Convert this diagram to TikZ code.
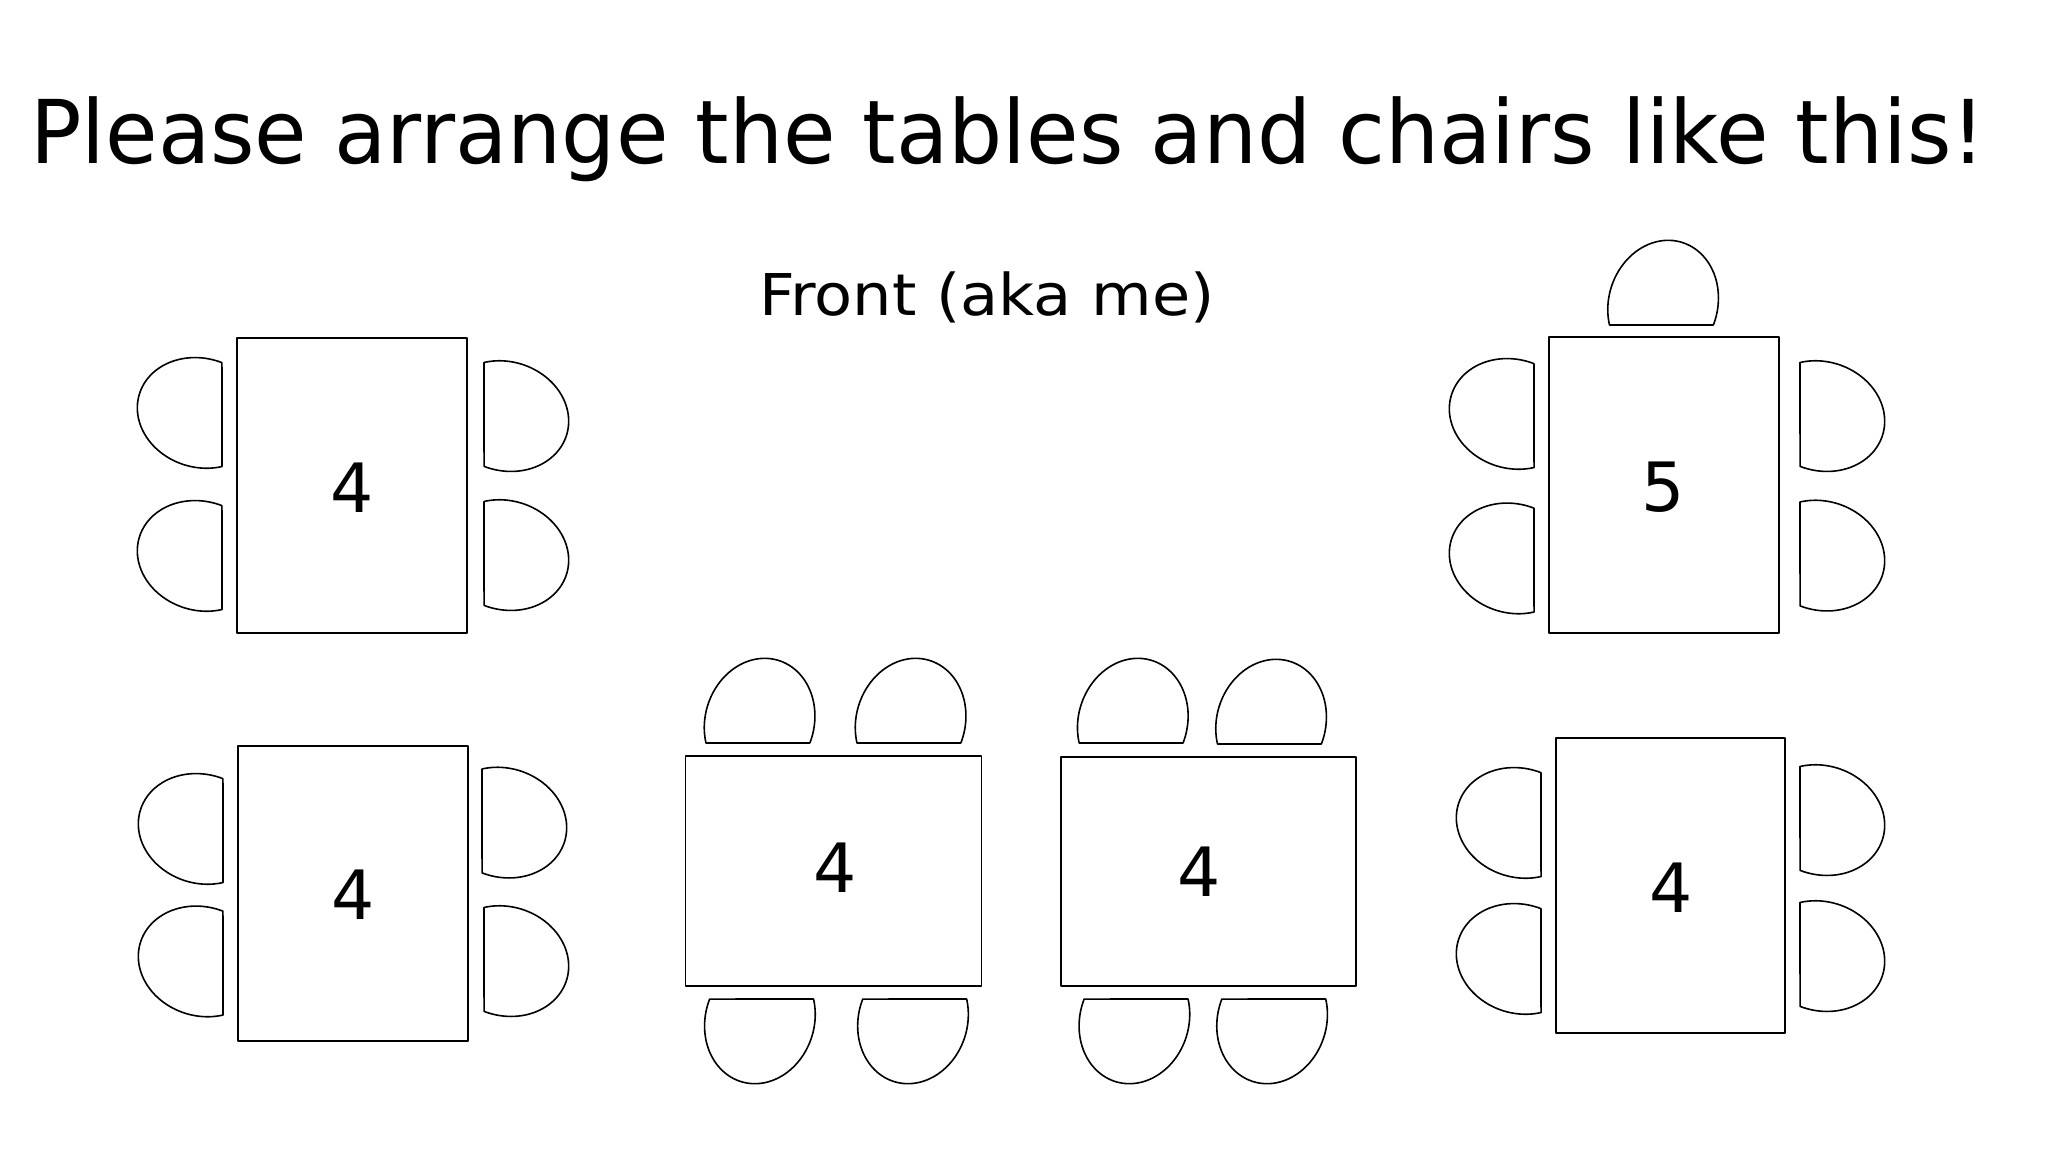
\documentclass[tikz,border=0pt]{standalone}
\usepackage{fontspec}
\setmainfont{DejaVu Sans}
\newfontfamily\titlefont[FakeStretch=0.97]{DejaVu Sans}
\newfontfamily\frontfont[FakeStretch=1.08]{DejaVu Sans}
\begin{document}
\begin{tikzpicture}[x=1pt,y=-1pt,
  ln/.style={line width=1.6pt, black, line join=round},
  tbl/.style={ln, draw, rectangle, inner sep=0pt, outer sep=0pt},
  num/.style={inner sep=0pt, font=\fontsize{68}{70}\selectfont},
  pics/wchair/.style={code={\draw[ln] plot[domain=56.1:275.1, samples=72, variable=\t]
      ({-21.2+61.5*cos(\t)-15.74*sin(\t)}, {-1.6+18.57*cos(\t)+52.13*sin(\t)}) -- cycle;}}
]
\useasboundingbox[fill=white] (0,0) rectangle (2048,1152);

% titles
\node[anchor=base, inner sep=0pt, font=\titlefont\fontsize{88}{100}\selectfont] (title) at (1008,163) {Please arrange the tables and chairs like this!};
\node[anchor=base, inner sep=0pt, font=\frontfont\fontsize{57.6}{64}\selectfont] (front) at (987,315) {Front (aka me)};

% table 1 (top left)
\node[tbl, minimum width=230pt, minimum height=295pt] (t1) at (352,485.5) {};
\node[num] (n1) at (352,488) {4};
\pic at (222,414.5) {wchair};
\pic at (222,557.5) {wchair};
\pic[rotate=180] at (484,414.5) {wchair};
\pic[rotate=180] at (484,553.5) {wchair};

% table 2 (top right, 5)
\node[tbl, minimum width=230pt, minimum height=296pt] (t2) at (1664,485) {};
\node[num] (n2) at (1663,487) {5};
\pic[rotate=-90] at (1661.5,325) {wchair};
\pic at (1534,415.5) {wchair};
\pic at (1534,560) {wchair};
\pic[rotate=180] at (1800,414.5) {wchair};
\pic[rotate=180] at (1800,554) {wchair};

% table 3 (middle left)
\node[tbl, minimum width=296pt, minimum height=230pt] (t3) at (833.6,871) {};
\node[num] (n3) at (835,868) {4};
\pic[rotate=-90] at (758,743) {wchair};
\pic[rotate=-90] at (909,743) {wchair};
\pic[rotate=90] at (761.5,999) {wchair};
\pic[rotate=90] at (914.6,999) {wchair};

% table 4 (middle right)
\node[tbl, minimum width=295.5pt, minimum height=229pt] (t4) at (1208.5,871.5) {};
\node[num] (n4) at (1199,872) {4};
\pic[rotate=-90] at (1131.2,743) {wchair};
\pic[rotate=-90] at (1269.5,744) {wchair};
\pic[rotate=90] at (1136,999) {wchair};
\pic[rotate=90] at (1273.7,999) {wchair};

% table 5 (bottom left)
\node[tbl, minimum width=230pt, minimum height=295pt] (t5) at (353,893.5) {};
\node[num] (n5) at (353,895) {4};
\pic at (223,830.5) {wchair};
\pic at (223,963) {wchair};
\pic[rotate=180] at (482,821) {wchair};
\pic[rotate=180] at (484,959.5) {wchair};

% table 6 (bottom right)
\node[tbl, minimum width=229pt, minimum height=295pt] (t6) at (1670.5,885.5) {};
\node[num] (n6) at (1671,888) {4};
\pic at (1541,824.5) {wchair};
\pic at (1541,960.5) {wchair};
\pic[rotate=180] at (1800,818.5) {wchair};
\pic[rotate=180] at (1800,954.5) {wchair};
\end{tikzpicture}
\end{document}
